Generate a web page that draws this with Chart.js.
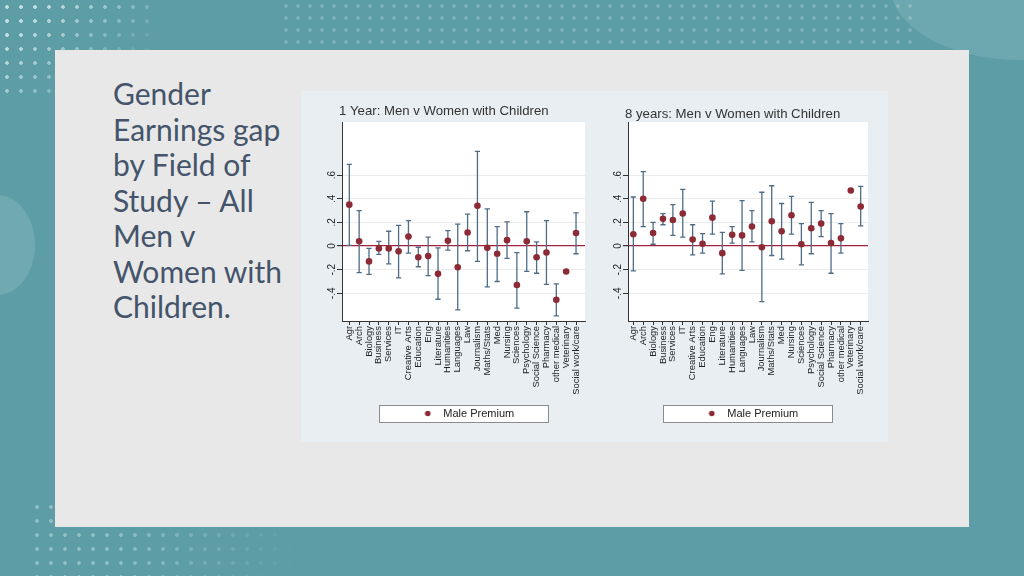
<!DOCTYPE html>
<html>
<head>
<meta charset="utf-8">
<script src="https://cdn.jsdelivr.net/npm/chart.js@4"></script>
<style>
  html, body { margin:0; padding:0; }
  body { width:1024px; height:576px; overflow:hidden; position:relative; background:#5d9ea6; font-family:"Liberation Sans", Arial, sans-serif; }
  .dots { position:absolute; background-image: radial-gradient(circle, rgba(230,245,247,0.75) 1.5px, transparent 2.2px); background-size:14px 14px; }
  #dotsTL { left:0; top:0; width:150px; height:95px; -webkit-mask-image: linear-gradient(135deg, #000 20%, transparent 85%); mask-image: linear-gradient(135deg, #000 20%, transparent 85%); }
  #dotsTop { left:280px; top:0; width:640px; height:50px; opacity:0.3; background-size:12px 12px; }
  #dotsBL { left:30px; top:500px; width:280px; height:76px; opacity:0.5; -webkit-mask-image: linear-gradient(to right, #000 30%, transparent 95%); mask-image: linear-gradient(to right, #000 30%, transparent 95%); }
  #blobTR { position:absolute; left:890px; top:-90px; width:260px; height:150px; border-radius:50%; background:rgba(255,255,255,0.10); }
  #blobL { position:absolute; left:-40px; top:195px; width:75px; height:100px; border-radius:50%; background:rgba(255,255,255,0.12); }
  #panel { position:absolute; left:55px; top:50px; width:914px; height:477px; background:#e8e8e8; }
  #heading { position:absolute; left:113px; top:76px; white-space:nowrap; font-family:Lato, "Open Sans", sans-serif; font-size:30px; line-height:35.5px; color:#44546a; }
  #graph { position:absolute; left:301px; top:91px; width:587px; height:351px; background:#e9eef2; }
  .cv { position:absolute; top:0; height:351px; }
  #c1wrap { left:0; width:293px; }
  #c2wrap { left:293px; width:294px; }
</style>
</head>
<body>
<div class="dots" id="dotsTL"></div>
<div class="dots" id="dotsTop"></div>
<div class="dots" id="dotsBL"></div>
<div id="blobTR"></div>
<div id="blobL"></div>
<div id="panel"></div>
<div id="heading">Gender<br>Earnings gap<br>by Field of<br>Study – All<br>Men v<br>Women with<br>Children.</div>
<div id="graph">
  <div class="cv" id="c1wrap"><canvas id="c1" width="293" height="351"></canvas></div>
  <div class="cv" id="c2wrap"><canvas id="c2" width="294" height="351"></canvas></div>
</div>
<script>
const categories = ["Agr","Arch","Biology","Business","Services","IT","Creative Arts","Education","Eng","Literature","Humanities","Languages","Law","Journalism","Maths/Stats","Med","Nursing","Sciences","Psychology","Social Science","Pharmacy","other medical","Veterinary","Social work/care"];

const oneYearPremium = [0.35,0.04,-0.13,-0.02,-0.02,-0.045,0.08,-0.095,-0.085,-0.235,0.045,-0.18,0.115,0.34,-0.015,-0.065,0.05,-0.33,0.04,-0.095,-0.055,-0.455,-0.215,0.11];
const oneYearLow     = [0.005,-0.225,-0.24,-0.07,-0.15,-0.27,-0.06,-0.175,-0.25,-0.45,-0.035,-0.54,-0.04,-0.13,-0.345,-0.30,-0.105,-0.525,-0.215,-0.23,-0.325,-0.59,null,-0.065];
const oneYearHigh    = [0.69,0.30,-0.02,0.04,0.125,0.175,0.215,-0.01,0.075,-0.015,0.13,0.185,0.27,0.80,0.315,0.165,0.205,-0.055,0.29,0.035,0.215,-0.32,null,0.28];

const eightYearPremium = [0.10,0.40,0.11,0.23,0.22,0.275,0.055,0.02,0.24,-0.06,0.095,0.09,0.165,-0.01,0.21,0.125,0.26,0.015,0.15,0.19,0.025,0.065,0.47,0.335];
const eightYearLow     = [-0.21,0.165,0.015,0.18,0.09,0.075,-0.075,-0.06,0.10,-0.235,0.025,-0.205,0.035,-0.47,-0.08,-0.11,0.10,-0.16,-0.065,0.08,-0.23,-0.06,null,0.17];
const eightYearHigh    = [0.415,0.63,0.20,0.275,0.35,0.48,0.18,0.105,0.38,0.115,0.165,0.385,0.30,0.455,0.51,0.36,0.42,0.19,0.37,0.30,0.275,0.19,null,0.505];

const yTickValues = [-0.4,-0.2,0,0.2,0.4,0.6];
const yTickLabels = ["-.4","-.2","0",".2",".4",".6"];
const legendLabel = "Male Premium";

const POINT_COLOR = "#8c2a36";
const BAR_COLOR = "#4f6c87";
const ZERO_COLOR = "#a0223f";

// legend dot image
const dot = document.createElement('canvas');
dot.width = 7; dot.height = 7;
(function(){ const g = dot.getContext('2d'); g.fillStyle = POINT_COLOR; g.beginPath(); g.arc(3.5,3.5,2.8,0,Math.PI*2); g.fill(); })();

// place title / legend boxes horizontally like the Stata layout
const placeBoxes = {
  id:'placeBoxes',
  afterLayout(chart, args, opts){
    const t = chart.titleBlock;
    if (t){ const w = t.right - t.left; t.left = opts.titleLeft; t.right = t.left + w; }
    const l = chart.legend;
    if (l){ l.left = opts.legendLeft; l.right = opts.legendRight; l.width = l.right - l.left; }
  }
};

const plotBg = {
  id:'plotBg',
  beforeDraw(chart){
    const {ctx, chartArea:a} = chart;
    ctx.save();
    ctx.fillStyle = '#ffffff';
    ctx.fillRect(a.left, a.top, a.right-a.left, a.bottom-a.top);
    const lg = chart.legend;
    if (lg && lg.legendHitBoxes && lg.legendHitBoxes.length){
      const hb = lg.legendHitBoxes[0];
      const cx = hb.left + 10;
      const cy = hb.top + hb.height/2;
      const bx = Math.round(cx - 49) + 0.5, by = Math.round(cy - 8.5) + 0.5;
      ctx.fillStyle = '#ffffff';
      ctx.fillRect(bx, by, 169, 17);
      ctx.strokeStyle = '#8c8c8c';
      ctx.lineWidth = 1;
      ctx.strokeRect(bx, by, 169, 17);
    }
    ctx.restore();
  }
};

const errorBars = {
  id:'errorBars',
  beforeDatasetsDraw(chart, args, opts){
    const {ctx} = chart;
    const xs = chart.scales.x, ys = chart.scales.y;
    const lo = opts.low, hi = opts.high;
    ctx.save();
    ctx.strokeStyle = BAR_COLOR;
    ctx.lineWidth = 1.3;
    for (let i = 0; i < lo.length; i++){
      if (lo[i] === null || hi[i] === null) continue;
      const x = xs.getPixelForValue(i);
      const y1 = ys.getPixelForValue(lo[i]);
      const y2 = ys.getPixelForValue(hi[i]);
      ctx.beginPath();
      ctx.moveTo(x, y1); ctx.lineTo(x, y2);
      ctx.moveTo(x-2.6, y1); ctx.lineTo(x+2.6, y1);
      ctx.moveTo(x-2.6, y2); ctx.lineTo(x+2.6, y2);
      ctx.stroke();
    }
    ctx.restore();
  }
};

function makeChart(id, title, values, low, high, cfg){
  return new Chart(document.getElementById(id), {
    type:'scatter',
    data:{
      datasets:[{
        label: legendLabel,
        data: values.map((v,i)=>({x:i, y:v})),
        backgroundColor: POINT_COLOR,
        borderWidth: 0,
        pointRadius: 3.3,
        pointHoverRadius: 3.3
      }]
    },
    options:{
      responsive:false,
      animation:false,
      layout:{ padding:{ left:cfg.padLeft, right:cfg.padRight, top:0, bottom:13 } },
      plugins:{
        tooltip:{ enabled:false },
        title:{
          display:true, text:title, align:'start', color:'#333333',
          font:{ family:'"Liberation Sans", Arial, sans-serif', size:13.2, weight:'normal' },
          padding:{ top:cfg.titleTop, bottom:cfg.titleBottom }
        },
        legend:{
          position:'bottom',
          labels:{
            usePointStyle:true, pointStyle: dot, pointStyleWidth:20, padding:6,
            color:'#222222',
            font:{ family:'"Liberation Sans", Arial, sans-serif', size:11 }
          }
        },
        placeBoxes:{ titleLeft:cfg.titleLeft, legendLeft:cfg.legendLeft, legendRight:cfg.legendRight },
        errorBars:{ low:low, high:high }
      },
      scales:{
        x:{
          type:'linear', min:cfg.xMin, max:cfg.xMax,
          afterBuildTicks(s){ s.ticks = categories.map((c,i)=>({value:i})); },
          afterFit(s){ s.height = 81; },
          border:{ display:true, color:'#333333', width:1 },
          grid:{ drawOnChartArea:false, drawTicks:true, tickLength:4, tickColor:'#333333' },
          ticks:{
            autoSkip:false, minRotation:90, maxRotation:90, padding:1,
            color:'#222222',
            font:{ family:'"Liberation Sans", Arial, sans-serif', size:9.4 },
            callback:(v)=>categories[v]
          }
        },
        y:{
          min:-0.634, max:1.048,
          afterBuildTicks(s){ s.ticks = yTickValues.map(v=>({value:v})); },
          afterFit(s){ s.width = 21; },
          border:{ display:true, color:'#333333', width:1 },
          grid:{
            drawTicks:true, tickLength:5, tickColor:'#333333',
            color:(c)=> (c.tick && c.tick.value === 0) ? ZERO_COLOR : '#ebebeb',
            lineWidth:(c)=> (c.tick && c.tick.value === 0) ? 1.2 : 1
          },
          ticks:{
            autoSkip:false, minRotation:90, maxRotation:90, padding:-1, crossAlign:'center',
            color:'#222222',
            font:{ family:'"Liberation Sans", Arial, sans-serif', size:10 },
            callback:(v)=>{ const k = yTickValues.indexOf(v); return k >= 0 ? yTickLabels[k] : ''; }
          }
        }
      }
    },
    plugins:[placeBoxes, plotBg, errorBars]
  });
}

makeChart('c1', '1 Year: Men v Women with Children', oneYearPremium, oneYearLow, oneYearHigh,
  { padLeft:20, padRight:9, titleTop:12.5, titleBottom:2.8, xMin:-0.74, xMax:23.91, titleLeft:38, legendLeft:41, legendRight:289 });
makeChart('c2', '8 years: Men v Women with Children', eightYearPremium, eightYearLow, eightYearHigh,
  { padLeft:13, padRight:20, titleTop:15, titleBottom:0.3, xMin:-0.54, xMax:23.74, titleLeft:31, legendLeft:34, legendRight:278 });
</script>
</body>
</html>
